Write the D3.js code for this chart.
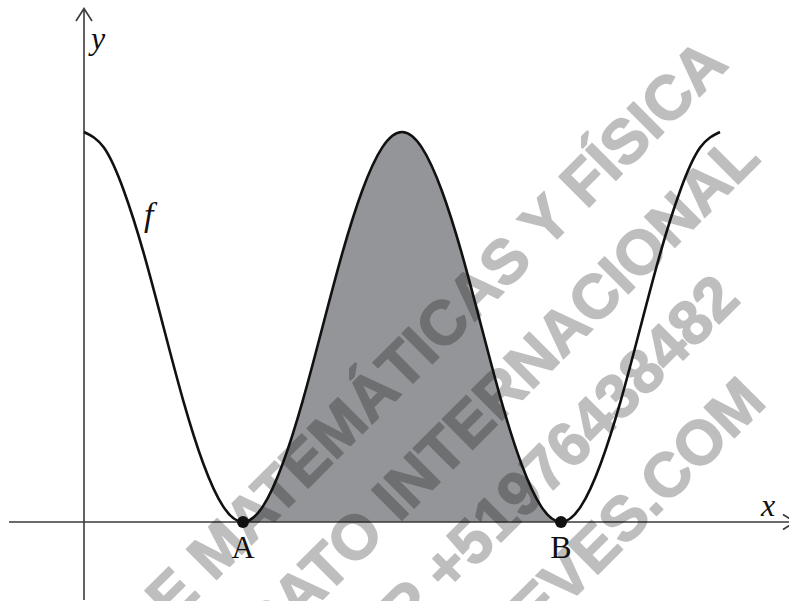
<!DOCTYPE html>
<html>
<head>
<meta charset="utf-8">
<script src="https://d3js.org/d3.v7.min.js"></script>
<style>
    body { margin: 0; background: #fff; }
    .lbl { font-family: "Liberation Serif", "Times New Roman", serif; font-size: 32px; fill: #111; }
    .it { font-style: italic; }
    .wm { font-family: "Liberation Sans", Arial, sans-serif; font-weight: bold; font-size: 62px;
          fill: #000; stroke: #000; stroke-width: 1.6; stroke-linejoin: round; }
</style>
</head>
<body>
<svg id="svg1" width="789" height="601"></svg>
<script>
// x in half-periods (A = 1, B = 3), f (max = 1)
const xValues = [0, 0.125, 0.25, 0.375, 0.5, 0.625, 0.75, 0.875, 1,
                 1.125, 1.25, 1.375, 1.5, 1.625, 1.75, 1.875, 2,
                 2.125, 2.25, 2.375, 2.5, 2.625, 2.75, 2.875, 3,
                 3.125, 3.25, 3.375, 3.5, 3.625, 3.75, 3.875, 4]
const fValues = [1, 0.96, 0.85, 0.69, 0.5, 0.31, 0.15, 0.04, 0,
                 0.04, 0.15, 0.31, 0.5, 0.69, 0.85, 0.96, 1,
                 0.96, 0.85, 0.69, 0.5, 0.31, 0.15, 0.04, 0,
                 0.04, 0.15, 0.31, 0.5, 0.69, 0.85, 0.96, 1]
const pointNames = ["A", "B"]
const pointX = [1, 3]
const watermarkLines = ["DE MATEMÁTICAS Y FÍSICA", "BACHILLERATO INTERNACIONAL",
                        "WHATSAPP +51976438482", "PROFESORNIEVES.COM"]

const svg = d3.select("#svg1")
const width = +svg.attr("width")
const height = +svg.attr("height")

const xScale = d3.scaleLinear().domain([0, 4]).range([84, 720])
const yScale = d3.scaleLinear().domain([0, 1]).range([522, 132])

const data = xValues.map((x, i) => ({x: x, y: fValues[i]}))
const shadeData = data.filter(d => d.x >= pointX[0] && d.x <= pointX[1])

// shaded region between A and B
svg.append("path")
    .datum(shadeData)
    .attr("fill", "#939598")
    .attr("d", d3.area()
        .x(d => xScale(d.x))
        .y0(yScale(0))
        .y1(d => yScale(d.y))
        .curve(d3.curveNatural))

// axes
const axisColor = "#3a3a3a"
svg.append("line").attr("x1", 9).attr("x2", 796)
    .attr("y1", yScale(0)).attr("y2", yScale(0))
    .attr("stroke", axisColor).attr("stroke-width", 1.6)
svg.append("line").attr("x1", xScale(0)).attr("x2", xScale(0))
    .attr("y1", 9).attr("y2", 600)
    .attr("stroke", axisColor).attr("stroke-width", 1.6)
// arrow heads
svg.append("path")
    .attr("d", `M${xScale(0) - 8},${21} L${xScale(0)},${8.5} L${xScale(0) + 8},${21}`)
    .attr("fill", "none").attr("stroke", axisColor).attr("stroke-width", 1.6)
svg.append("path")
    .attr("d", `M783,${yScale(0) - 7.5} L795,${yScale(0)} L783,${yScale(0) + 7.5}`)
    .attr("fill", "none").attr("stroke", axisColor).attr("stroke-width", 1.6)

// watermark
const wmEnds = [[730, 66], [762, 160], [742, 301], [768, 404]]
svg.append("g").attr("opacity", 0.25)
    .selectAll("text").data(watermarkLines)
    .join("text")
    .attr("class", "wm")
    .attr("text-anchor", "end")
    .attr("transform", (d, i) => `translate(${wmEnds[i][0]},${wmEnds[i][1]}) rotate(-45)`)
    .text(d => d)

// curve f
svg.append("path")
    .datum(data)
    .attr("fill", "none")
    .attr("stroke", "#111")
    .attr("stroke-width", 2.6)
    .attr("d", d3.line()
        .x(d => xScale(d.x))
        .y(d => yScale(d.y))
        .curve(d3.curveNatural))

// points A and B
svg.selectAll("circle.pt").data(pointX)
    .join("circle")
    .attr("class", "pt")
    .attr("cx", d => xScale(d))
    .attr("cy", yScale(0))
    .attr("r", 6)
    .attr("fill", "#111")

svg.selectAll("text.pname").data(pointNames)
    .join("text")
    .attr("class", "lbl pname")
    .attr("text-anchor", "middle")
    .attr("x", (d, i) => xScale(pointX[i]))
    .attr("y", 558)
    .text(d => d)

// axis & function labels
svg.append("text").attr("class", "lbl it").attr("x", 91).attr("y", 49).text("y")
svg.append("text").attr("class", "lbl it").attr("x", 144).attr("y", 226).style("font-size", "34px").text("f")
svg.append("text").attr("class", "lbl it").attr("x", 761).attr("y", 516).text("x")
</script>
</body>
</html>
